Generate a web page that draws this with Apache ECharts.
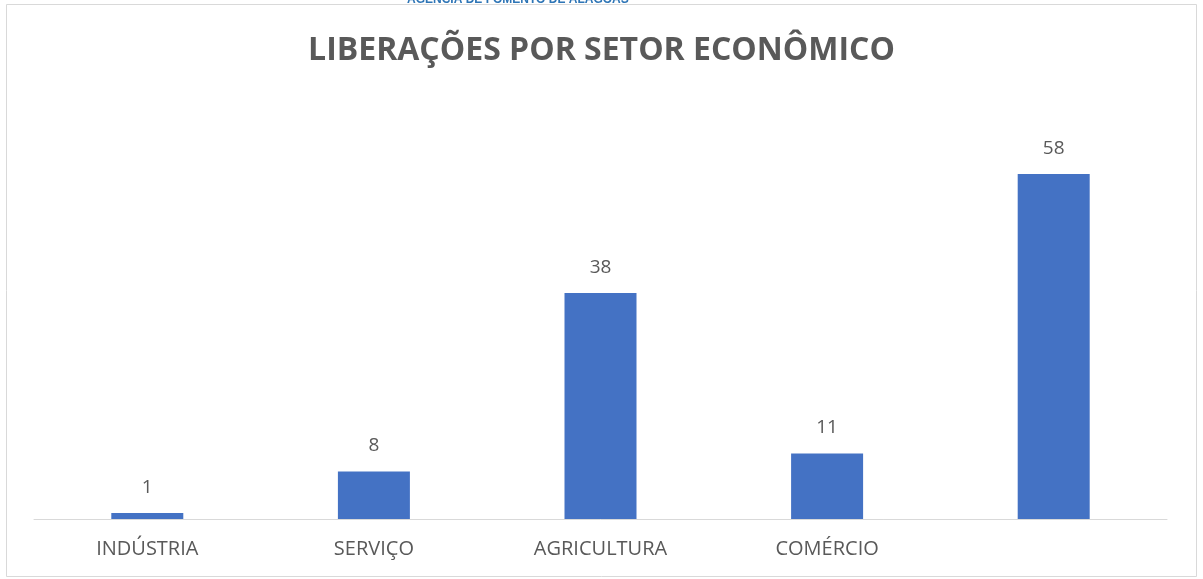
<!DOCTYPE html>
<html>
<head>
<meta charset="utf-8">
<script src="https://cdn.jsdelivr.net/npm/echarts@6/dist/echarts.min.js"></script>
<style>
  html, body { margin: 0; padding: 0; background: #fff; }
  #chart { width: 1203px; height: 579px; }
</style>
</head>
<body>
<div id="chart"></div>
<script>
// dados do gráfico
var setores = ['INDÚSTRIA', 'SERVIÇO', 'AGRICULTURA', 'COMÉRCIO', ''];
var liberacoes = [1, 8, 38, 11, 58];
var titulo = 'LIBERAÇÕES POR SETOR ECONÔMICO';
var cabecalho = 'AGÊNCIA DE FOMENTO DE ALAGOAS';

var myChart = echarts.init(document.getElementById('chart'));

var option = {
    backgroundColor: '#fff',
    animation: false,
    title: [{
        left: 'center',
        top: 30,
        text: titulo,
        textStyle: {
            color: '#595959',
            fontSize: 32,
            fontWeight: 'bold',
            fontFamily: 'Open Sans'
        }
    }, {
        left: 402,
        top: -11,
        text: cabecalho,
        textStyle: {
            color: '#2e75b6',
            fontSize: 12,
            fontWeight: 'bold',
            fontFamily: 'Liberation Sans'
        }
    }],
    graphic: [{
        type: 'rect',
        shape: { x: 6.5, y: 4.5, width: 1190, height: 572 },
        style: { fill: 'none', stroke: '#d9d9d9', lineWidth: 1 },
        z: -1
    }],
    grid: {
        left: 34,
        right: 36,
        top: 162,
        bottom: 60
    },
    xAxis: {
        type: 'category',
        data: setores,
        axisTick: { show: false },
        axisLine: { lineStyle: { color: '#d9d9d9', width: 1 } },
        axisLabel: {
            color: '#595959',
            fontSize: 20,
            fontFamily: 'Open Sans',
            margin: 20
        }
    },
    yAxis: {
        type: 'value',
        min: 0,
        max: 60,
        show: false,
        splitLine: { show: false }
    },
    series: [{
        type: 'bar',
        data: liberacoes,
        barWidth: 72,
        itemStyle: { color: '#4472c4' },
        label: {
            show: true,
            position: 'top',
            distance: 16,
            color: '#595959',
            fontSize: 19,
            fontFamily: 'Open Sans'
        }
    }]
};

myChart.setOption(option);
</script>
</body>
</html>
